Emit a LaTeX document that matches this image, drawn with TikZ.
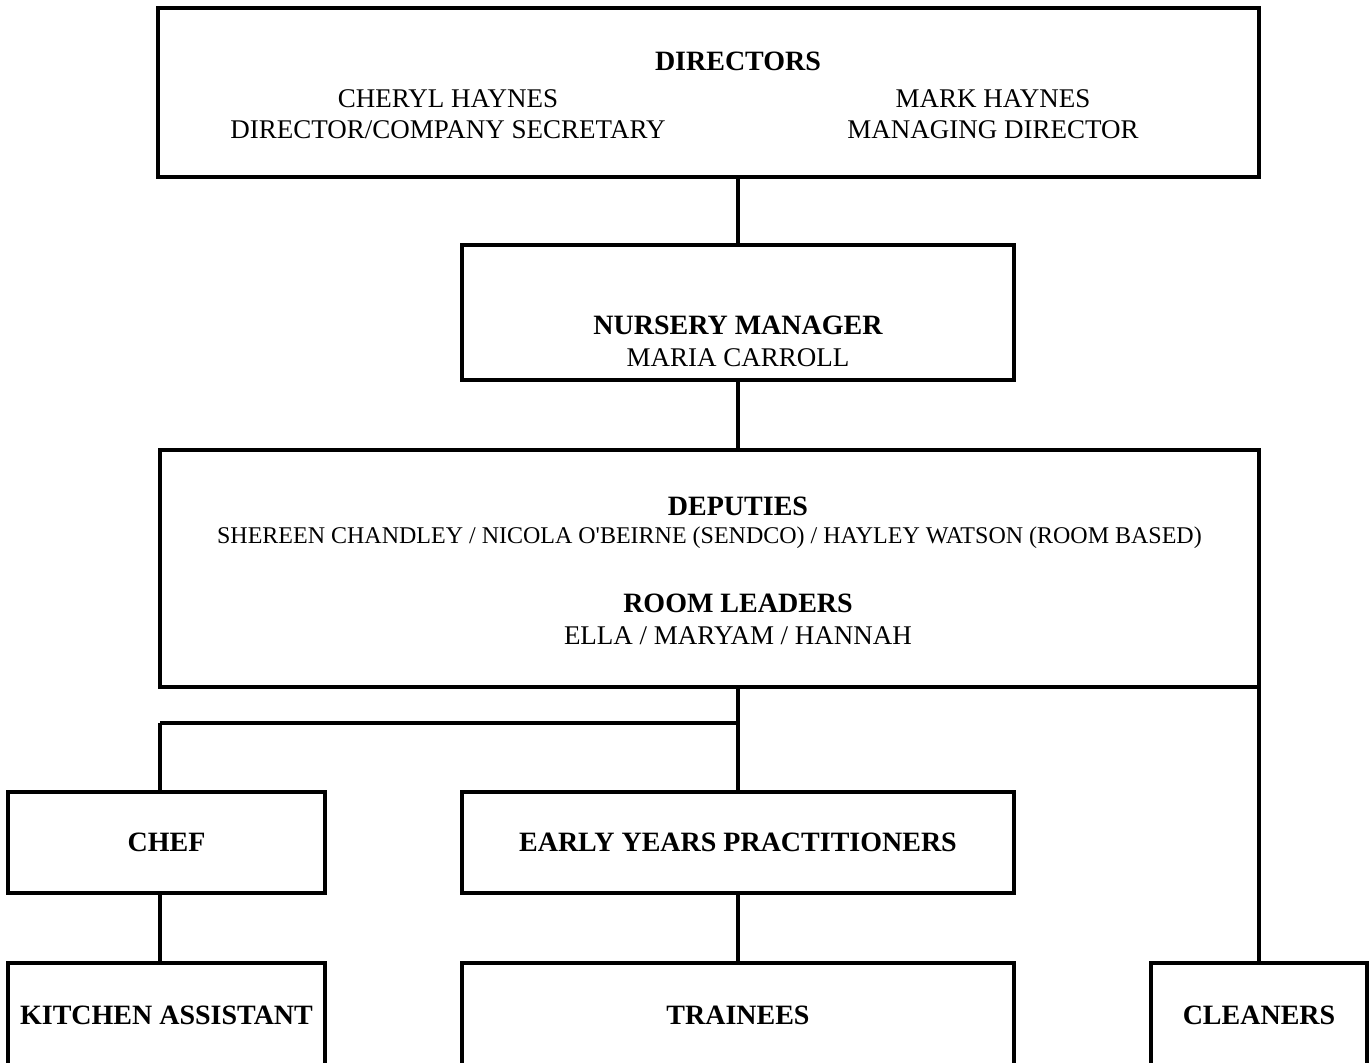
\documentclass[tikz,border=0pt]{standalone}
\usepackage{fontspec}
\setmainfont{Liberation Serif}[Ligatures=TeXOff]
\begin{document}
\begin{tikzpicture}[x=1pt,y=-1pt,
  box/.style={draw, line width=4pt, inner sep=0pt, outer sep=0pt, rectangle},
  conn/.style={line width=4pt},
  hd/.style={inner sep=0pt, font=\fontsize{28}{32}\selectfont\bfseries},
  tx/.style={inner sep=0pt, font=\fontsize{27}{31}\selectfont},
  sm/.style={inner sep=0pt, font=\fontsize{24}{28}\selectfont}]
\useasboundingbox (0,0) rectangle (1369,1063);
\clip (0,0) rectangle (1369,1063);
% boxes
\node[box, minimum width=1101pt, minimum height=169pt] (dir) at (708.5,92.5) {};
\node[box, minimum width=552pt, minimum height=135pt] (nm) at (738,312.5) {};
\node[box, minimum width=1099pt, minimum height=237pt] (dep) at (709.5,568.5) {};
\node[box, minimum width=317pt, minimum height=101pt] (chef) at (166.5,842.5) {\fontsize{28}{32}\selectfont\bfseries CHEF};
\node[box, minimum width=552pt, minimum height=101pt] (eyp) at (738,842.5) {\fontsize{28}{32}\selectfont\bfseries EARLY YEARS PRACTITIONERS};
\node[box, minimum width=317pt, minimum height=104pt] (ka) at (166.5,1015) {\fontsize{28}{32}\selectfont\bfseries KITCHEN ASSISTANT};
\node[box, minimum width=552pt, minimum height=104pt] (tr) at (738,1015) {\fontsize{28}{32}\selectfont\bfseries TRAINEES};
\node[box, minimum width=216pt, minimum height=104pt] (cl) at (1259,1015) {\fontsize{28}{32}\selectfont\bfseries CLEANERS};
% texts
\node[hd] (t1) at (738,61) {DIRECTORS};
\node[tx] (t2) at (448,99) {CHERYL HAYNES};
\node[tx] (t3) at (448,130) {DIRECTOR/COMPANY SECRETARY};
\node[tx] (t4) at (993,99) {MARK HAYNES};
\node[tx] (t5) at (993,130) {MANAGING DIRECTOR};
\node[hd] (t6) at (738,325) {NURSERY MANAGER};
\node[tx] (t7) at (738,358) {MARIA CARROLL};
\node[hd] (t8) at (738,506) {DEPUTIES};
\node[sm] (t9) at (709.5,538) {SHEREEN CHANDLEY / NICOLA O'BEIRNE (SENDCO) / HAYLEY WATSON (ROOM BASED)};
\node[hd] (t10) at (738,603) {ROOM LEADERS};
\node[tx] (t11) at (738,636) {ELLA / MARYAM / HANNAH};
% connectors
\coordinate (j) at (738,723);
\coordinate (cj) at (160,723);
\draw[conn] (nm.north |- dir.south) -- (nm.north);
\draw[conn] (nm.south) -- (nm.south |- dep.north);
\draw[conn] (j |- dep.south) -- (eyp.north);
\draw[conn] (cj) -- (j);
\draw[conn] (cj) -- (cj |- chef.north);
\draw[conn] (cj |- chef.south) -- (cj |- ka.north);
\draw[conn] (eyp.south) -- (tr.north);
\draw[conn, line cap=rect] (dep.south east) -- (cl.north);
\end{tikzpicture}
\end{document}
